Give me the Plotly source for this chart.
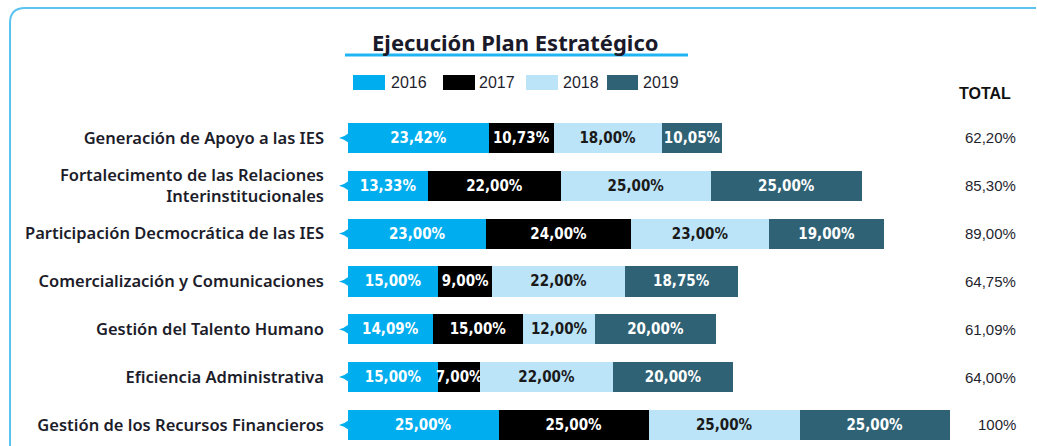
import plotly.graph_objects as go

categories = [
    "Generación de Apoyo a las IES",
    "Fortalecimento de las Relaciones<br>Interinstitucionales",
    "Participación Decmocrática de las IES",
    "Comercialización y Comunicaciones",
    "Gestión del Talento Humano",
    "Eficiencia Administrativa",
    "Gestión de los Recursos Financieros",
]
years = ["2016", "2017", "2018", "2019"]
v2016 = [23.42, 13.33, 23.00, 15.00, 14.09, 15.00, 25.00]
v2017 = [10.73, 22.00, 24.00, 9.00, 15.00, 7.00, 25.00]
v2018 = [18.00, 25.00, 23.00, 22.00, 12.00, 22.00, 25.00]
v2019 = [10.05, 25.00, 19.00, 18.75, 20.00, 20.00, 25.00]
totals = ["62,20%", "85,30%", "89,00%", "64,75%", "61,09%", "64,00%", "100%"]

series = [v2016, v2017, v2018, v2019]
colors = ["#00AEEF", "#000000", "#BCE4F8", "#2F6274"]
text_colors = ["#FFFFFF", "#FFFFFF", "#1A1A1A", "#FFFFFF"]

W, H = 1037, 446
ML, MR, MT, MB = 348, 87, 114, 0
PW, PH = W - ML - MR, H - MT - MB


def px(x):
    return (x - ML) / PW


def py(y):
    return (H - MB - y) / PH


BAR_FONT = dict(family="DejaVu Sans Condensed, DejaVu Sans, sans-serif", size=15, weight="bold")

fig = go.Figure()
for name, vals, col, tcol in zip(years, series, colors, text_colors):
    fig.add_trace(go.Bar(
        y=categories, x=vals, name=name, orientation="h",
        marker=dict(color=col, line=dict(width=0)),
        width=0.63,
        texttemplate="%{x:.2f}%", textposition="inside",
        insidetextanchor="middle", textangle=0, constraintext="none",
        textfont=dict(color=tcol, **BAR_FONT),
        hoverinfo="x+name",
    ))

annotations = []
shapes = []

# small pointers at the left of each bar (pixel-sized, anchored at the left edge of each row)
for i, _ in enumerate(categories):
    shapes.append(dict(
        type="path", xref="paper", yref="y", xsizemode="pixel", ysizemode="pixel",
        xanchor=0, yanchor=i, path="M 1,-5 Q -4,-1 -9,0 Q -4,1 1,5 Z",
        fillcolor=colors[0], line=dict(width=0), layer="above",
    ))

# totals
for cat, t in zip(categories, totals):
    annotations.append(dict(
        x=px(1018), xref="paper", y=cat, yref="y", text=t, showarrow=False,
        xanchor="right", yanchor="middle",
        font=dict(family="Liberation Sans, Arial, sans-serif", size=15, color="#1F1F2E"),
    ))
annotations.append(dict(
    x=px(1013), xref="paper", y=py(93), yref="paper", text="<b>TOTAL</b>",
    showarrow=False, xanchor="right", yanchor="middle",
    font=dict(family="Liberation Sans, Arial, sans-serif", size=16, color="#111111"),
))
# title
annotations.append(dict(
    x=px(515), xref="paper", y=py(42), yref="paper",
    text="<b>Ejecución Plan Estratégico</b>", showarrow=False,
    xanchor="center", yanchor="middle",
    font=dict(family="Noto Sans, sans-serif", size=22, color="#1A1A2A"),
))

# title underline
shapes.append(dict(type="line", xref="paper", yref="paper",
                   x0=px(345), x1=px(688), y0=py(55), y1=py(55),
                   line=dict(color="#1FB5F2", width=3)))
# custom legend
legend_swatches = [(353, 385), (443, 475), (526, 558), (607, 638)]
legend_text_x = [389, 477, 561, 641]
for (a, b), tx, name, col in zip(legend_swatches, legend_text_x, years, colors):
    shapes.append(dict(type="rect", xref="paper", yref="paper",
                       x0=px(a), x1=px(b), y0=py(90), y1=py(75),
                       fillcolor=col, line=dict(width=0)))
    annotations.append(dict(
        x=px(tx), xref="paper", y=py(83), yref="paper", text=name,
        showarrow=False, xanchor="left", yanchor="middle",
        font=dict(family="Liberation Sans, Arial, sans-serif", size=16, color="#1F1F2E"),
    ))
# rounded frame
r = 15
path = (f"M {px(10)},{py(446)} L {px(10)},{py(8 + r)} "
        f"Q {px(10)},{py(8)} {px(10 + r)},{py(8)} L {px(1036)},{py(8)}")
shapes.append(dict(type="path", xref="paper", yref="paper", path=path,
                   line=dict(color="#5BC3F0", width=2)))

fig.update_layout(
    width=W, height=H,
    margin=dict(l=ML, r=MR, t=MT, b=MB, autoexpand=False),
    barmode="stack", bargap=0.37,
    separators=",.",
    showlegend=False,
    plot_bgcolor="white", paper_bgcolor="white",
    xaxis=dict(range=[0, 100], visible=False, fixedrange=True),
    yaxis=dict(
        type="category", range=[6.44, -0.5], showgrid=False, zeroline=False,
        showline=False, ticks="", ticklabelstandoff=23,
        tickfont=dict(family="Noto Sans, sans-serif", size=16.5, color="#1C1C2A", weight=600),
        fixedrange=True,
    ),
    annotations=annotations,
    shapes=shapes,
)

fig.write_html(
    "out.html",
    config={"displayModeBar": False},
    post_script="document.body.style.margin='0';document.body.style.overflow='hidden';",
)
